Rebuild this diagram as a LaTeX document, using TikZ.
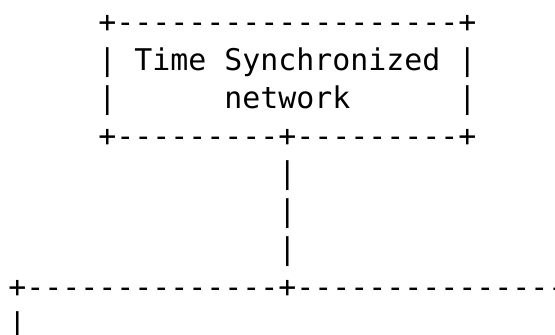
\documentclass[tikz,border=0pt]{standalone}
\usepackage{fontspec}
\setmonofont{DejaVu Sans Mono}
% run of n hyphens, kept apart so no ligature forms
\newcommand\dashrun[1]{\foreach \k in {1,...,#1}{-}}
\begin{document}
\begin{tikzpicture}[x=1pt,y=-1pt,
  ascii/.style={anchor=base west, inner sep=0pt, outer sep=0pt,
    font=\ttfamily\fontsize{29.9pt}{37.75pt}\selectfont}]
\path[use as bounding box] (0,0) rectangle (555,335);
\clip (0,0) rectangle (555,335);
% column c starts at 8.3 + 18 c ; row r has its baseline at 32.75 + 37.75 r
\node[ascii] (top)  at (98.3, 32.75)  {+\dashrun{19}+};
\node[ascii] (l1)   at (98.3, 70.5)   {|~Time~Synchronized~|};
\node[ascii] (l2)   at (98.3, 108.25) {|~~~~~~network~~~~~~|};
\node[ascii] (bot)  at (98.3, 146)    {+\dashrun{9}+\dashrun{9}+};
\node[ascii] (v1)   at (278.3, 183.75) {|};
\node[ascii] (v2)   at (278.3, 221.5)  {|};
\node[ascii] (v3)   at (278.3, 259.25) {|};
\node[ascii] (bus)  at (8.3, 297)     {+\dashrun{14}+\dashrun{20}};
\node[ascii] (drop) at (8.3, 334.75)  {|};
\end{tikzpicture}
\end{document}
